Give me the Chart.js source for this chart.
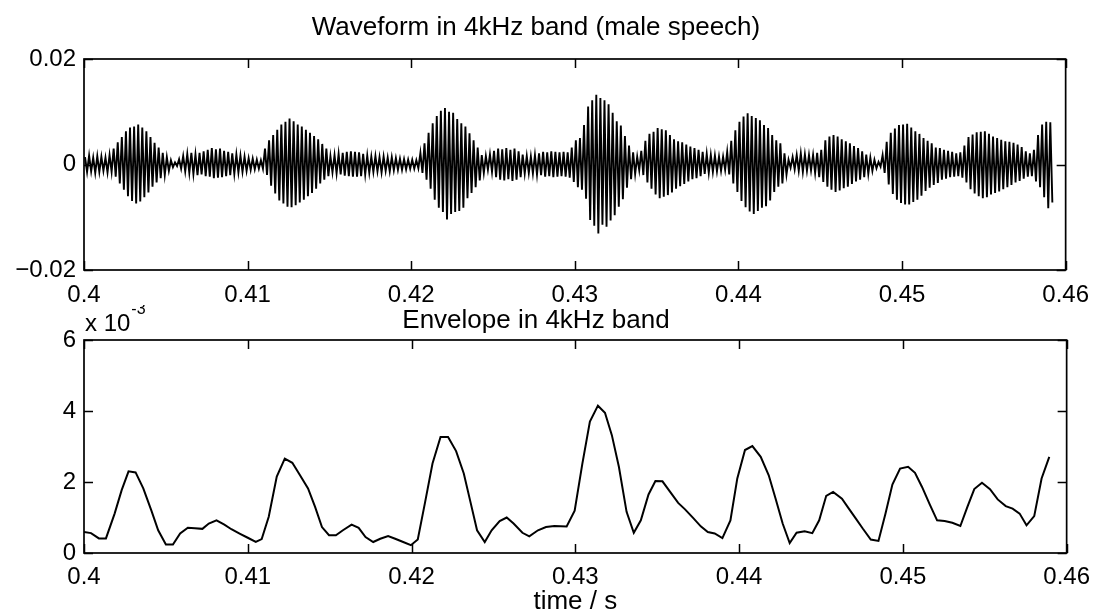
<!DOCTYPE html>
<html>
<head>
<meta charset="utf-8">
<script src="https://cdn.jsdelivr.net/npm/chart.js@4.4.1/dist/chart.umd.min.js"></script>
<style>
html,body{margin:0;padding:0;background:#fff;width:1100px;height:615px;overflow:hidden;}
canvas{position:absolute;left:0;}
#c1{top:0;}
#c2{top:305px;}
</style>
</head>
<body>
<canvas id="c1" width="1100" height="305"></canvas>
<canvas id="c2" width="1100" height="310"></canvas>
<script>
// ---------- data ----------
const xTickValues = [0.4, 0.41, 0.42, 0.43, 0.44, 0.45, 0.46];
const waveTickValues = [-0.02, 0, 0.02];
const envTickValues = [0, 2, 4, 6];

const waveTitle = 'Waveform in 4kHz band (male speech)';
const envTitle = 'Envelope in 4kHz band';
const xAxisTitle = 'time / s';

// waveform: start time and period of the 4 kHz oscillation (s)
const waveStart = 0.4;
const wavePeriod = 0.00025;
// positive peak of each cycle (x 1e-3)
const waveHi = [
1.4,1.7,1.3,1.6,1.5,1.3,1.8,3.0,4.2,5.2,
6.3,7.0,7.2,7.6,7.0,6.3,5.2,4.1,3.2,2.2,
1.4,0.8,0.4,1.0,1.6,2.0,2.2,1.9,2.2,2.5,
2.8,3.1,2.9,3.0,2.6,2.4,2.1,1.9,1.7,1.5,
1.2,1.1,0.9,0.8,3.0,4.6,5.6,6.6,7.6,8.1,
8.7,8.2,7.6,7.2,6.6,6.0,5.4,4.8,3.9,3.0,
1.6,1.8,2.0,2.2,2.4,2.5,2.4,2.3,2.0,1.7,
1.5,1.6,1.4,1.5,1.3,1.4,1.2,1.1,1.0,0.9,
0.9,0.8,2.2,4.0,6.0,7.8,9.2,10.2,10.7,10.0,
9.8,8.6,7.8,7.2,5.9,4.6,3.2,1.8,1.6,1.9,
2.6,3.0,2.9,3.1,2.8,3.0,2.5,1.9,1.6,1.5,
1.8,2.1,2.4,2.3,2.5,2.4,2.3,2.4,2.3,3.2,
4.6,5.0,7.5,11.0,12.2,13.2,12.6,12.2,11.4,9.8,
8.2,7.4,5.4,3.6,2.3,1.5,2.6,4.5,5.8,6.2,
6.9,6.7,6.5,5.6,4.8,4.4,4.2,3.8,3.4,3.1,
2.8,2.4,2.0,1.8,1.7,1.5,1.5,2.4,4.5,6.5,
8.1,9.1,9.7,9.2,8.8,8.4,7.5,6.9,5.6,4.6,
4.0,2.1,0.9,1.4,1.8,2.1,1.9,1.8,1.8,2.2,
2.8,4.6,5.3,5.6,5.3,4.8,4.4,4.0,3.5,3.1,
2.5,1.9,1.3,0.9,0.5,1.8,4.3,6.0,6.8,7.5,
7.6,7.7,7.0,6.3,5.8,5.0,4.5,4.0,3.2,3.1,
2.8,2.6,2.4,2.1,2.3,3.6,5.2,5.7,6.1,6.2,
6.3,5.8,5.3,5.0,4.7,4.4,4.3,4.1,3.8,3.3,
2.5,2.1,2.8,5.6,7.6,8.1,8.0
];
// magnitude of the negative peak of each cycle (x 1e-3)
const waveLo = [
1.4,1.3,1.6,1.4,1.2,1.5,1.4,2.3,3.6,4.8,
6.0,6.9,7.4,7.0,6.2,5.3,4.2,3.4,2.6,2.0,
1.2,0.5,0.3,0.8,1.3,1.6,1.8,2.0,1.9,2.2,
2.3,2.6,2.5,2.4,2.2,2.0,1.8,1.5,1.4,1.2,
1.0,0.9,0.8,0.8,2.0,4.0,5.5,6.8,7.4,8.0,
8.1,7.7,7.2,6.7,6.0,5.4,4.6,3.6,2.9,2.2,
1.5,1.7,1.9,2.1,2.2,2.3,2.3,2.2,1.9,1.6,
1.4,1.3,1.5,1.2,1.3,1.1,1.0,1.0,0.9,0.8,
0.8,0.7,1.6,2.9,4.6,6.7,8.2,9.0,10.4,9.4,
9.0,8.8,8.2,6.4,5.4,4.3,3.0,1.6,1.0,1.4,
2.4,2.9,3.0,2.8,3.1,2.9,2.4,1.7,1.6,1.7,
1.9,2.0,2.3,2.2,2.4,2.3,2.2,2.3,2.5,3.3,
4.3,4.8,6.5,10.5,11.6,13.1,11.4,11.8,10.6,9.6,
8.0,6.6,4.4,2.8,1.8,1.1,2.0,3.4,4.6,5.7,
6.4,6.1,5.8,5.3,4.6,4.1,3.7,3.2,2.8,2.6,
2.2,1.8,1.6,1.4,1.3,1.2,1.0,1.9,3.6,5.2,
6.9,8.1,8.9,9.4,8.8,8.2,7.9,6.8,5.2,4.2,
3.6,1.9,0.6,0.9,1.2,1.4,1.2,1.1,1.6,2.4,
3.3,4.2,4.8,5.2,4.9,4.5,4.2,3.7,3.2,2.9,
2.4,1.8,1.2,0.7,0.4,1.6,3.8,5.6,6.7,7.3,
7.6,7.6,7.1,6.7,5.9,5.0,4.4,3.9,3.5,2.9,
2.7,2.4,2.3,2.2,2.5,3.4,4.7,5.5,6.0,6.4,
6.2,5.7,5.4,5.1,4.7,4.3,3.9,3.4,3.1,2.7,
2.3,2.2,3.2,4.3,6.2,8.3,7.2
];

// envelope (time in s, value in units of 1e-3)
const envTime = [
0.40000,0.40043,0.40091,0.40134,0.40187,0.40230,0.40272,0.40315,0.40362,0.40411,
0.40453,0.40500,0.40543,0.40587,0.40634,0.40677,0.40723,0.40762,0.40809,0.40857,
0.40900,0.40953,0.41000,0.41049,0.41085,0.41128,0.41177,0.41226,0.41272,0.41319,
0.41368,0.41411,0.41453,0.41496,0.41538,0.41581,0.41634,0.41677,0.41719,0.41766,
0.41809,0.41857,0.41900,0.41949,0.41996,0.42038,0.42081,0.42128,0.42177,0.42223,
0.42272,0.42319,0.42357,0.42400,0.42447,0.42489,0.42538,0.42581,0.42623,0.42677,
0.42719,0.42772,0.42821,0.42872,0.42947,0.42996,0.43043,0.43089,0.43138,0.43181,
0.43223,0.43266,0.43313,0.43357,0.43400,0.43447,0.43489,0.43532,0.43579,0.43628,
0.43670,0.43719,0.43766,0.43809,0.43851,0.43898,0.43947,0.43989,0.44036,0.44081,
0.44132,0.44181,0.44223,0.44266,0.44309,0.44351,0.44400,0.44447,0.44489,0.44532,
0.44574,0.44628,0.44670,0.44713,0.44755,0.44804,0.44851,0.44894,0.44936,0.44983,
0.45032,0.45074,0.45117,0.45164,0.45209,0.45255,0.45302,0.45351,0.45394,0.45436,
0.45483,0.45532,0.45579,0.45628,0.45670,0.45713,0.45755,0.45802,0.45847,0.45894
];
const envValue = [
0.59,0.56,0.41,0.41,1.11,1.77,2.30,2.27,1.82,1.20,
0.64,0.24,0.24,0.55,0.71,0.70,0.68,0.83,0.92,0.80,
0.67,0.54,0.43,0.31,0.39,1.02,2.15,2.66,2.54,2.19,
1.82,1.30,0.73,0.50,0.50,0.64,0.80,0.71,0.45,0.31,
0.40,0.48,0.40,0.31,0.22,0.38,1.39,2.52,3.27,3.27,
2.87,2.24,1.49,0.64,0.31,0.64,0.90,1.00,0.83,0.57,
0.47,0.64,0.73,0.76,0.75,1.19,2.52,3.70,4.15,3.95,
3.32,2.43,1.16,0.57,0.92,1.65,2.03,2.02,1.72,1.41,
1.23,0.99,0.75,0.59,0.55,0.42,0.92,2.10,2.90,3.01,
2.71,2.19,1.53,0.83,0.28,0.57,0.61,0.56,0.92,1.61,
1.72,1.53,1.25,0.97,0.69,0.38,0.34,1.11,1.93,2.38,
2.43,2.26,1.86,1.37,0.92,0.90,0.85,0.76,1.30,1.80,
1.98,1.80,1.51,1.32,1.25,1.11,0.78,1.04,2.10,2.71
];

// ---------- build ----------
const FONT = "'Liberation Sans', Arial, Helvetica, sans-serif";
Chart.defaults.font.family = FONT;
Chart.defaults.color = '#000';

const wavePoints = [];
waveHi.forEach((h, k) => {
  const t0 = waveStart + k * wavePeriod;
  wavePoints.push({x: t0 + wavePeriod * 0.25, y: h * 1e-3});
  wavePoints.push({x: t0 + wavePeriod * 0.75, y: -waveLo[k] * 1e-3});
});
const envPoints = envTime.map((t, i) => ({x: t, y: envValue[i]}));

const frameTicks = {
  id: 'frameTicks',
  afterDraw(chart) {
    const {ctx, chartArea: a, scales} = chart;
    ctx.save();
    ctx.strokeStyle = '#000';
    ctx.lineWidth = 1.7;
    ctx.strokeRect(a.left, a.top, a.right - a.left, a.bottom - a.top);
    const L = 9;
    ctx.lineWidth = 1.5;
    ctx.beginPath();
    scales.x.ticks.forEach(t => {
      const px = Math.round(scales.x.getPixelForValue(t.value)) + 0.5;
      ctx.moveTo(px, a.bottom); ctx.lineTo(px, a.bottom - L);
      ctx.moveTo(px, a.top); ctx.lineTo(px, a.top + L);
    });
    scales.y.ticks.forEach(t => {
      const py = Math.round(scales.y.getPixelForValue(t.value)) + 0.5;
      ctx.moveTo(a.left, py); ctx.lineTo(a.left + L, py);
      ctx.moveTo(a.right, py); ctx.lineTo(a.right - L, py);
    });
    ctx.stroke();
    ctx.restore();
  }
};

const exponentLabel = {
  id: 'exponentLabel',
  afterDraw(chart) {
    const {ctx, chartArea: a} = chart;
    ctx.save();
    ctx.fillStyle = '#000';
    ctx.textBaseline = 'middle';
    ctx.textAlign = 'left';
    ctx.font = '24px ' + FONT;
    const base = 'x 10';
    ctx.fillText(base, a.left + 1, a.top - 16);
    const w = ctx.measureText(base).width;
    ctx.font = '16px ' + FONT;
    ctx.fillText('-3', a.left + 1 + w + 1, a.top - 30);
    ctx.restore();
  }
};

function xScale(height, pad, withTitle) {
  const s = {
    type: 'linear', min: 0.4, max: 0.46,
    grid: {display: false, drawTicks: false},
    border: {display: false},
    afterBuildTicks: sc => { sc.ticks = xTickValues.map(v => ({value: v})); },
    afterFit: sc => { sc.height = height; },
    ticks: {color: '#000', font: {size: 24}, padding: pad, maxRotation: 0, autoSkip: false,
            callback: v => String(v)}
  };
  if (withTitle) {
    s.title = {display: true, text: xAxisTitle, color: '#000',
               font: {size: 26, lineHeight: 1}, padding: 0};
  }
  return s;
}

new Chart(document.getElementById('c1'), {
  type: 'line',
  data: {datasets: [{data: wavePoints, borderColor: '#000', borderWidth: 1.9,
                     pointRadius: 0, tension: 0, fill: false}]},
  options: {
    responsive: false, animation: false, devicePixelRatio: 1,
    layout: {padding: {left: 0, right: 28, top: 0, bottom: 0}},
    plugins: {
      legend: {display: false}, tooltip: {enabled: false},
      title: {display: true, text: waveTitle, color: '#000',
              font: {size: 26, weight: 'normal', lineHeight: 1.2},
              padding: {top: 12.4, bottom: 15.4}}
    },
    scales: {
      x: xScale(35, 11, false),
      y: {
        type: 'linear', min: -0.02, max: 0.02,
        grid: {display: false, drawTicks: false},
        border: {display: false},
        afterBuildTicks: sc => { sc.ticks = waveTickValues.map(v => ({value: v})); },
        afterFit: sc => { sc.width = 84; },
        ticks: {color: '#000', font: {size: 24}, padding: 8,
                callback: v => v < 0 ? '\u2212' + String(-v) : String(v)}
      }
    }
  },
  plugins: [frameTicks]
});

new Chart(document.getElementById('c2'), {
  type: 'line',
  data: {datasets: [{data: envPoints, borderColor: '#000', borderWidth: 2,
                     pointRadius: 0, tension: 0, fill: false}]},
  options: {
    responsive: false, animation: false, devicePixelRatio: 1,
    layout: {padding: {left: 0, right: 28, top: 0, bottom: 0}},
    plugins: {
      legend: {display: false}, tooltip: {enabled: false},
      title: {display: true, text: envTitle, color: '#000',
              font: {size: 26, weight: 'normal', lineHeight: 1.2},
              padding: {top: 0, bottom: 3.8}}
    },
    scales: {
      x: xScale(62, 10, true),
      y: {
        type: 'linear', min: 0, max: 6,
        grid: {display: false, drawTicks: false},
        border: {display: false},
        afterBuildTicks: sc => { sc.ticks = envTickValues.map(v => ({value: v})); },
        afterFit: sc => { sc.width = 84; },
        ticks: {color: '#000', font: {size: 24}, padding: 8, callback: v => String(v)}
      }
    }
  },
  plugins: [frameTicks, exponentLabel]
});
</script>
</body>
</html>
